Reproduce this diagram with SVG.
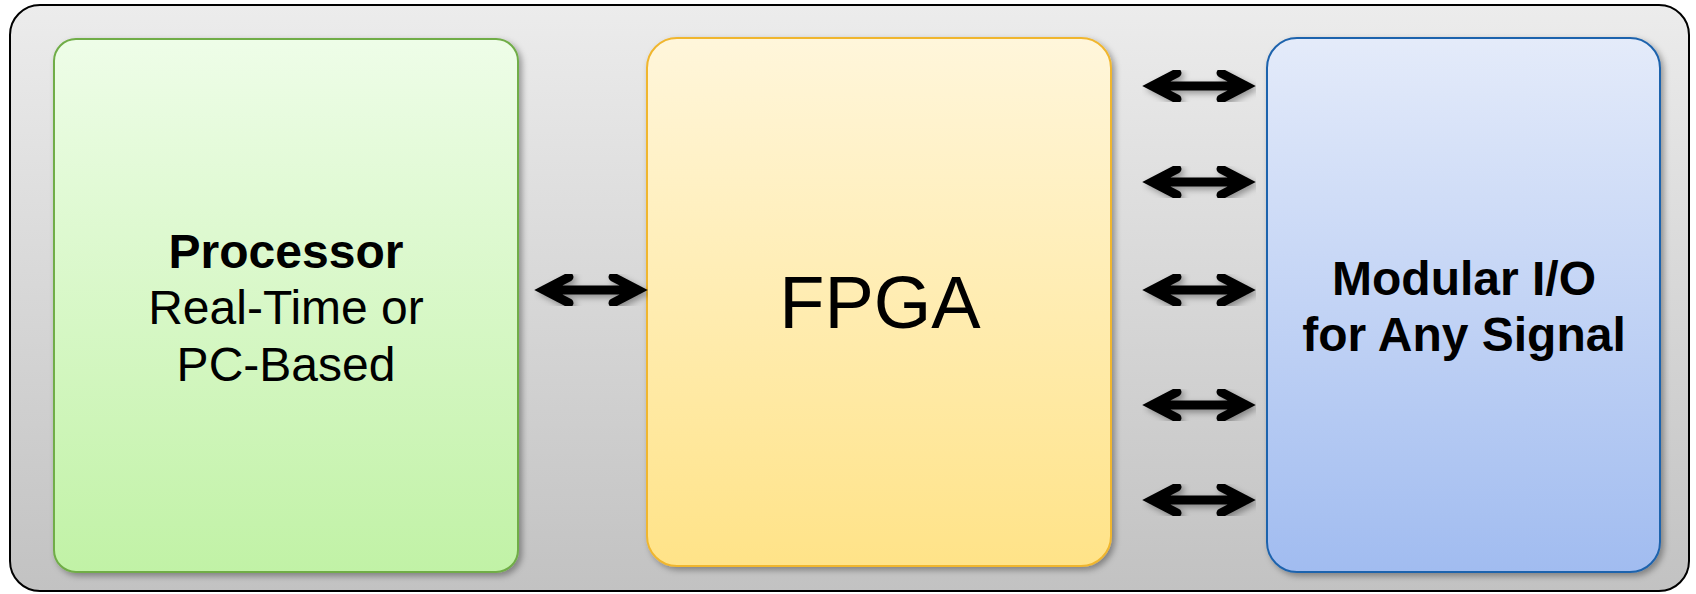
<svg xmlns="http://www.w3.org/2000/svg" width="1696" height="594" viewBox="0 0 1696 594">
  <defs>
    <linearGradient id="gFrame" x1="0" y1="0" x2="0" y2="1">
      <stop offset="0" stop-color="#ececec"/>
      <stop offset="1" stop-color="#c2c2c2"/>
    </linearGradient>
    <linearGradient id="gGreen" x1="0" y1="0" x2="0" y2="1">
      <stop offset="0" stop-color="#eefde8"/>
      <stop offset="1" stop-color="#c1f2a6"/>
    </linearGradient>
    <linearGradient id="gYellow" x1="0" y1="0" x2="0" y2="1">
      <stop offset="0" stop-color="#fff6db"/>
      <stop offset="1" stop-color="#ffe388"/>
    </linearGradient>
    <linearGradient id="gBlue" x1="0" y1="0" x2="0" y2="1">
      <stop offset="0" stop-color="#e4ebfa"/>
      <stop offset="1" stop-color="#a1bcf0"/>
    </linearGradient>
    <filter id="shadow" x="-10%" y="-10%" width="120%" height="120%">
      <feDropShadow dx="3" dy="3" stdDeviation="3" flood-color="#000" flood-opacity="0.35"/>
    </filter>
  </defs>
  <style>
    .box { stroke-width: 2; filter: url(#shadow); }
    .lbl { font-family: "Liberation Sans", Arial, sans-serif; fill: #000; text-anchor: middle; }
    .b { font-weight: bold; }
    .arrow { fill: none; stroke: #000; stroke-width: 9; stroke-linecap: round; stroke-linejoin: miter; filter: url(#shadow); }
  </style>

  <!-- outer frame -->
  <rect id="frame" x="10" y="5" width="1679" height="586" rx="30" ry="30" fill="url(#gFrame)" stroke="#000" stroke-width="2"/>

  <g id="processor">
    <rect class="box" x="54" y="39" width="464" height="533" rx="22" ry="22" fill="url(#gGreen)" stroke="#70ad47"/>
    <text class="lbl b" x="286" y="268" font-size="48">Processor</text>
    <text class="lbl" x="286" y="324" font-size="48">Real-Time or</text>
    <text class="lbl" x="286" y="381" font-size="48">PC-Based</text>
  </g>

  <g id="fpga">
    <rect class="box" x="647" y="38" width="464" height="528" rx="30" ry="30" fill="url(#gYellow)" stroke="#f0b62e"/>
    <text class="lbl" x="880" y="328" font-size="74">FPGA</text>
  </g>

  <g id="modular-io">
    <rect class="box" x="1267" y="38" width="393" height="534" rx="30" ry="30" fill="url(#gBlue)" stroke="#1f63ad"/>
    <text class="lbl b" x="1464" y="295" font-size="48">Modular I/O</text>
    <text class="lbl b" x="1464" y="351" font-size="48">for Any Signal</text>
  </g>

  <g id="connectors">
    <path class="arrow" d="M544 290 H638 M569 277 L544 290 L569 303 M613 277 L638 290 L613 303"/>
    <path class="arrow" d="M1152 86 H1246 M1177 73 L1152 86 L1177 99 M1221 73 L1246 86 L1221 99"/>
    <path class="arrow" d="M1152 182 H1246 M1177 169 L1152 182 L1177 195 M1221 169 L1246 182 L1221 195"/>
    <path class="arrow" d="M1152 290 H1246 M1177 277 L1152 290 L1177 303 M1221 277 L1246 290 L1221 303"/>
    <path class="arrow" d="M1152 405 H1246 M1177 392 L1152 405 L1177 418 M1221 392 L1246 405 L1221 418"/>
    <path class="arrow" d="M1152 500 H1246 M1177 487 L1152 500 L1177 513 M1221 487 L1246 500 L1221 513"/>
  </g>
</svg>
